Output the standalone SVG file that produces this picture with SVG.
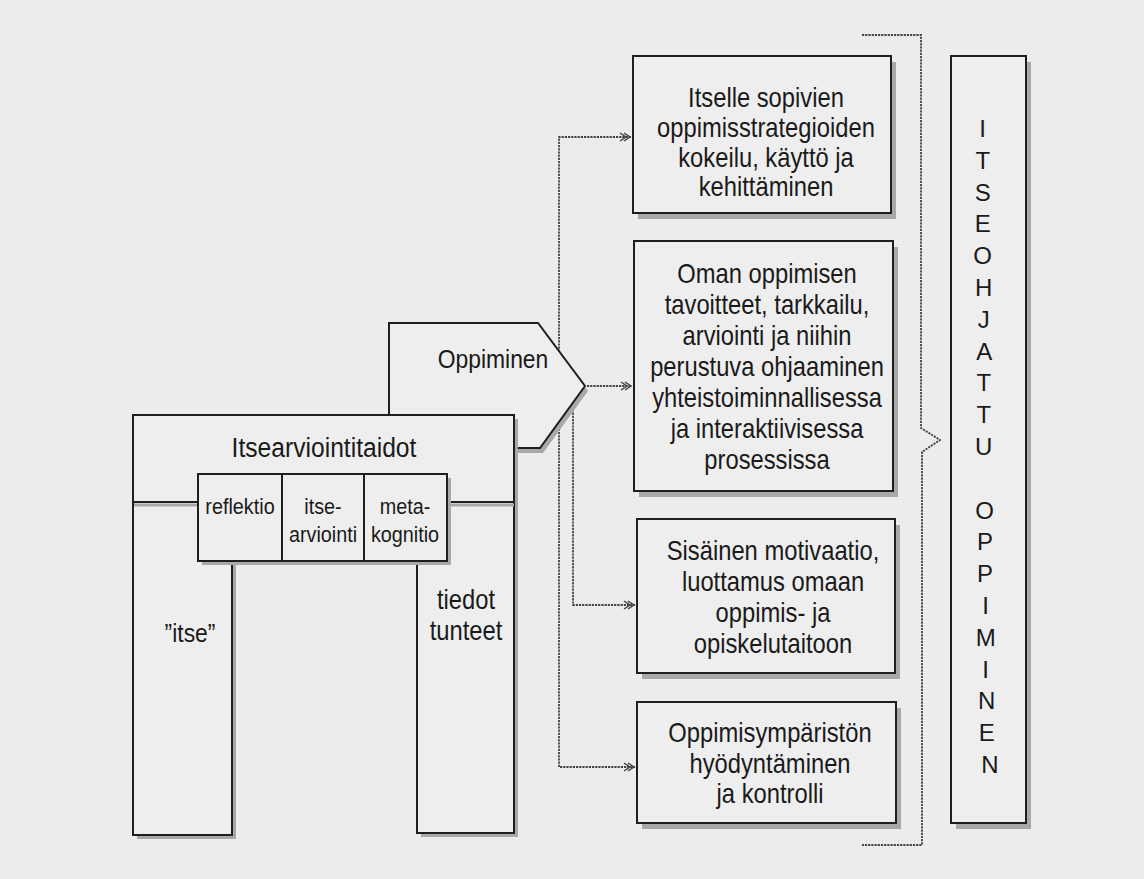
<svg xmlns="http://www.w3.org/2000/svg" width="1144" height="879" viewBox="0 0 1144 879">
<style>
.bg{fill:#ececec}
.box{fill:#eeeeee;stroke:#1e1e1e;stroke-width:2}
.sh{fill:#a8a8a8}
.shl{stroke:#a8a8a8;stroke-width:3;fill:none}
.ln{stroke:#1e1e1e;stroke-width:2;fill:none}
.con{stroke:#444444;stroke-width:1.8;fill:none;stroke-dasharray:2.2 1}
.t{font-family:"Liberation Sans",Arial,sans-serif;fill:#1a1a1a;text-anchor:middle}
.t27{font-size:27px}
.t22{font-size:22.5px}
</style>
<defs>
<marker id="arr" markerUnits="userSpaceOnUse" markerWidth="14" markerHeight="12" refX="12" refY="6" orient="auto">
<path d="M1,2 L7,6 L1,10 M5,2 L11,6 L5,10" fill="none" stroke="#444444" stroke-width="1.5"/>
</marker>
</defs>
<rect class="bg" x="0" y="0" width="1144" height="879"/>

<g id="connectors">
<path class="con" d="M559,400 V137 H631" marker-end="url(#arr)"/>
<path class="con" d="M559,400 V767 H635" marker-end="url(#arr)"/>
<path class="con" d="M573,403 V605 H635" marker-end="url(#arr)"/>
<path class="con" d="M587,386 H632" marker-end="url(#arr)"/>
<path class="con" d="M862,35 H921 V428 L940,440 L922,452 V845 H862"/>
</g>

<g id="oppiminen">
<polygon class="sh" points="392,328 541,328 588,391 543,453 392,453"/>
<polygon class="box" points="389,323 538,323 585,386 540,448 389,448"/>
<g transform="translate(493,0) scale(0.88,1)"><text class="t" x="0" y="368" style="font-size:26px">Oppiminen</text></g>
</g>

<g id="itsearviointitaidot">
<path class="sh" d="M137,419 H518 V837 H421 V565 H236 V839 H137 Z"/>
<path class="box" d="M133,415 H514 V833 H417 V561 H232 V835 H133 Z"/>
<path class="shl" d="M134,505 H198 M447,505 H514"/>
<path class="ln" d="M133,502 H198 M447,502 H514"/>
<g transform="translate(324,0) scale(0.88,1)"><text class="t" x="0" y="457" style="font-size:28px">Itsearviointitaidot</text></g>
</g>

<g id="itse">
<g transform="translate(190,0) scale(0.88,1)"><text class="t" x="0" y="642" style="font-size:26px">”itse”</text></g>
</g>

<g id="tiedot">
<g transform="translate(466,0) scale(0.88,1)">
<text class="t t27" x="0" y="609">tiedot</text>
<text class="t t27" x="0" y="640">tunteet</text>
</g>
</g>

<g id="subskills">
<rect class="sh" x="202" y="478" width="249" height="87"/>
<rect class="box" x="198" y="474" width="249" height="87"/>
<path class="ln" d="M282,474 V561 M364,474 V561"/>
<g transform="translate(240,0) scale(0.88,1)"><text class="t t22" x="0" y="514">reflektio</text></g>
<g transform="translate(323,0) scale(0.88,1)"><text class="t t22" x="0" y="514">itse-</text><text class="t t22" x="0" y="542">arviointi</text></g>
<g transform="translate(405,0) scale(0.88,1)"><text class="t t22" x="0" y="514">meta-</text><text class="t t22" x="0" y="542">kognitio</text></g>
</g>

<g id="box1">
<rect class="sh" x="638" y="62" width="258" height="157"/>
<rect class="box" x="633" y="56" width="258" height="157"/>
<g transform="translate(766,0) scale(0.88,1)">
<text class="t t27" x="0" y="107">Itselle sopivien</text>
<text class="t t27" x="0" y="137">oppimisstrategioiden</text>
<text class="t t27" x="0" y="167">kokeilu, käyttö ja</text>
<text class="t t27" x="0" y="196">kehittäminen</text>
</g>
</g>

<g id="box2">
<rect class="sh" x="639" y="247" width="259" height="250"/>
<rect class="box" x="634" y="241" width="259" height="250"/>
<g transform="translate(767,0) scale(0.88,1)">
<text class="t t27" x="0" y="283">Oman oppimisen</text>
<text class="t t27" x="0" y="314">tavoitteet, tarkkailu,</text>
<text class="t t27" x="0" y="345">arviointi ja niihin</text>
<text class="t t27" x="0" y="376">perustuva ohjaaminen</text>
<text class="t t27" x="0" y="407">yhteistoiminnallisessa</text>
<text class="t t27" x="0" y="438">ja interaktiivisessa</text>
<text class="t t27" x="0" y="469">prosessissa</text>
</g>
</g>

<g id="box3">
<rect class="sh" x="642" y="525" width="258" height="154"/>
<rect class="box" x="637" y="519" width="258" height="154"/>
<g transform="translate(773,0) scale(0.88,1)">
<text class="t t27" x="0" y="560">Sisäinen motivaatio,</text>
<text class="t t27" x="0" y="591">luottamus omaan</text>
<text class="t t27" x="0" y="622">oppimis- ja</text>
<text class="t t27" x="0" y="653">opiskelutaitoon</text>
</g>
</g>

<g id="box4">
<rect class="sh" x="642" y="708" width="259" height="121"/>
<rect class="box" x="637" y="702" width="259" height="121"/>
<g transform="translate(770,0) scale(0.88,1)">
<text class="t t27" x="0" y="742">Oppimisympäristön</text>
<text class="t t27" x="0" y="773">hyödyntäminen</text>
<text class="t t27" x="0" y="803">ja kontrolli</text>
</g>
</g>

<g id="itseohjattu">
<rect class="sh" x="956" y="62" width="75" height="767"/>
<rect class="box" x="951" y="56" width="75" height="767"/>
<text class="t" style="font-size:24px">
<tspan x="986" y="137">I</tspan>
<tspan x="986" y="169">T</tspan>
<tspan x="986" y="201">S</tspan>
<tspan x="986" y="232">E</tspan>
<tspan x="986" y="264">O</tspan>
<tspan x="987" y="296">H</tspan>
<tspan x="987" y="328">J</tspan>
<tspan x="987" y="360">A</tspan>
<tspan x="987" y="391">T</tspan>
<tspan x="987" y="423">T</tspan>
<tspan x="987" y="455">U</tspan>
<tspan x="988" y="519">O</tspan>
<tspan x="988" y="550">P</tspan>
<tspan x="988" y="582">P</tspan>
<tspan x="989" y="614">I</tspan>
<tspan x="989" y="646">M</tspan>
<tspan x="989" y="678">I</tspan>
<tspan x="990" y="709">N</tspan>
<tspan x="990" y="741">E</tspan>
<tspan x="990" y="773">N</tspan>
</text>
</g>
</svg>
